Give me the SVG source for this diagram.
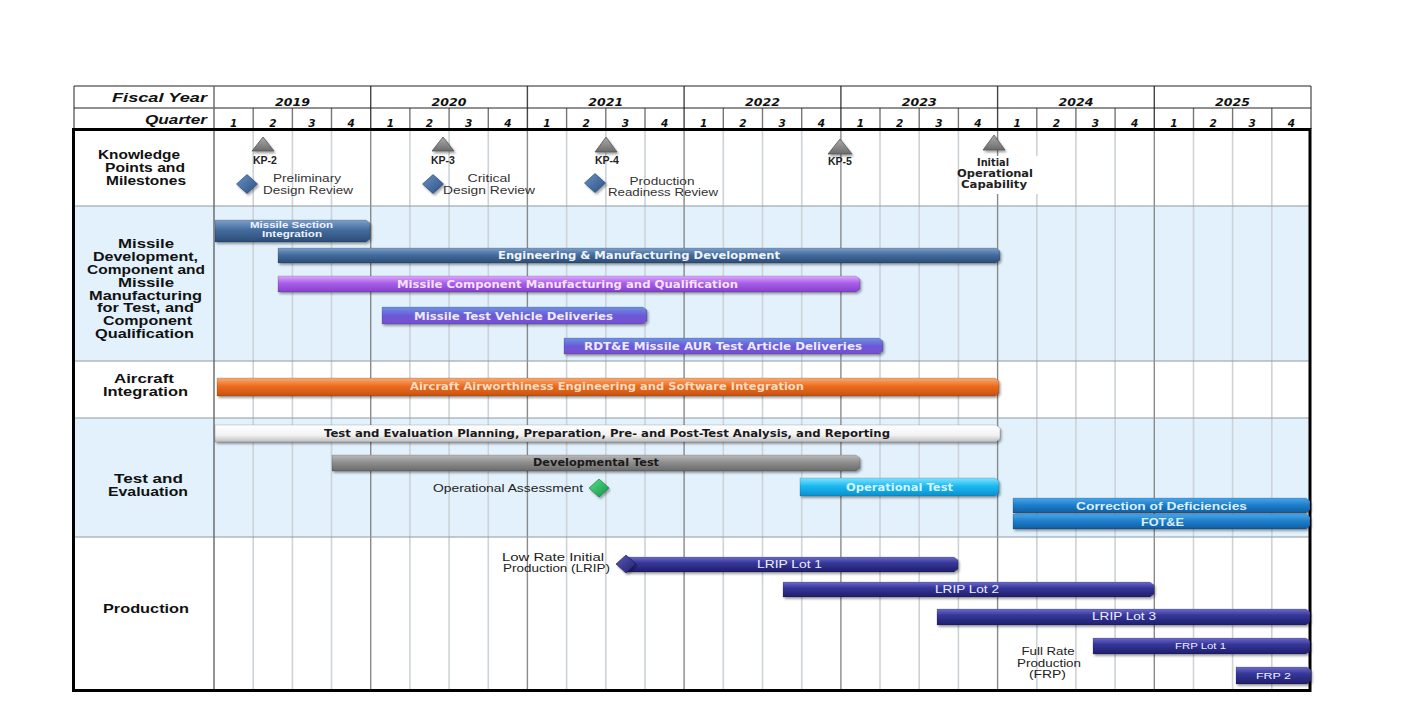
<svg xmlns="http://www.w3.org/2000/svg" width="1416" height="720" viewBox="0 0 1416 720">
<style>
.lbl{font-family:"Liberation Sans",Arial,sans-serif;font-weight:bold;font-size:12.5px;fill:#111}
.hdr{font-family:"Liberation Sans",Arial,sans-serif;font-weight:bold;font-style:italic;font-size:12.5px;fill:#111}
.yr{font-family:"DejaVu Sans",Verdana,sans-serif;font-weight:bold;font-style:italic;font-size:10px;fill:#111;text-anchor:middle}
.q{font-family:"DejaVu Sans",Verdana,sans-serif;font-weight:bold;font-style:italic;font-size:10.5px;fill:#111;text-anchor:middle}
.kp{font-family:"Liberation Sans",Arial,sans-serif;font-weight:bold;font-size:10.5px;fill:#222;text-anchor:middle}
.ioc{font-family:"DejaVu Sans",Verdana,sans-serif;font-weight:bold;font-size:10px;fill:#222;text-anchor:middle}
.ms{font-family:"Liberation Sans",Arial,sans-serif;font-size:10.5px;fill:#333}
.mid{text-anchor:middle}
.bt{font-family:"DejaVu Sans",Verdana,sans-serif;font-weight:bold;font-size:10.5px;fill:#f2f4fa}
.ba{font-family:"Liberation Sans",Arial,sans-serif;font-weight:bold;font-size:10.5px;fill:#eef4ff}
.bn{font-family:"Liberation Sans",Arial,sans-serif;font-size:10.5px;fill:#eeeeff}
.bar{filter:url(#sh);stroke:#000;stroke-opacity:0.25;stroke-width:0.6}
.qline{stroke:#cdd3d8;stroke-width:1.6;fill:none}
.yline{stroke:#8a8a8a;stroke-width:1.4;fill:none}
.hq{stroke:#777;stroke-width:1.4;fill:none}
.rowdiv{stroke:#8d9ba5;stroke-width:1;fill:none}
.tri{fill:url(#gTri);stroke:#555;stroke-width:0.8;filter:url(#sh)}
.dia{stroke:#1f3b66;stroke-width:0.6;filter:url(#sh)}
</style>
<defs>
<filter id="sh" x="-10%" y="-40%" width="120%" height="200%">
<feDropShadow dx="1.5" dy="2" stdDeviation="1.2" flood-color="#000" flood-opacity="0.35"/>
</filter>
<linearGradient id="gSteel" x1="0" y1="0" x2="0" y2="1"><stop offset="0" stop-color="#7d9fcb"/><stop offset="0.45" stop-color="#446d9e"/><stop offset="1" stop-color="#2b4c77"/></linearGradient>
<linearGradient id="gViolet" x1="0" y1="0" x2="0" y2="1"><stop offset="0" stop-color="#dda9ff"/><stop offset="0.45" stop-color="#a85ee8"/><stop offset="1" stop-color="#8640cc"/></linearGradient>
<linearGradient id="gBV" x1="0" y1="0" x2="0" y2="1"><stop offset="0" stop-color="#6f92e2"/><stop offset="0.5" stop-color="#6a5ad8"/><stop offset="1" stop-color="#7a4ed0"/></linearGradient>
<linearGradient id="gOrange" x1="0" y1="0" x2="0" y2="1"><stop offset="0" stop-color="#f9ab74"/><stop offset="0.45" stop-color="#ec6c1e"/><stop offset="1" stop-color="#c8520f"/></linearGradient>
<linearGradient id="gSilver" x1="0" y1="0" x2="0" y2="1"><stop offset="0" stop-color="#ffffff"/><stop offset="0.6" stop-color="#f2f2f2"/><stop offset="1" stop-color="#bcbcbc"/></linearGradient>
<linearGradient id="gGrey" x1="0" y1="0" x2="0" y2="1"><stop offset="0" stop-color="#bababa"/><stop offset="0.45" stop-color="#8f8f8f"/><stop offset="1" stop-color="#6a6a6a"/></linearGradient>
<linearGradient id="gCyan" x1="0" y1="0" x2="0" y2="1"><stop offset="0" stop-color="#80e3ff"/><stop offset="0.45" stop-color="#1cb8f0"/><stop offset="1" stop-color="#0b90cf"/></linearGradient>
<linearGradient id="gBlue" x1="0" y1="0" x2="0" y2="1"><stop offset="0" stop-color="#4ba6ea"/><stop offset="0.45" stop-color="#1f80cd"/><stop offset="1" stop-color="#0f5c9e"/></linearGradient>
<linearGradient id="gNavy" x1="0" y1="0" x2="0" y2="1"><stop offset="0" stop-color="#6c6cc9"/><stop offset="0.4" stop-color="#36369a"/><stop offset="1" stop-color="#1f1f6c"/></linearGradient>
<linearGradient id="gTri" x1="0" y1="0" x2="0" y2="1"><stop offset="0" stop-color="#aaaaaa"/><stop offset="1" stop-color="#6c6c6c"/></linearGradient>
<linearGradient id="gDia" x1="0" y1="0" x2="1" y2="1"><stop offset="0" stop-color="#6a91c4"/><stop offset="1" stop-color="#2c5085"/></linearGradient>
<linearGradient id="gGreen" x1="0" y1="0" x2="1" y2="1"><stop offset="0" stop-color="#5ce08c"/><stop offset="1" stop-color="#0f9444"/></linearGradient>
<linearGradient id="gNavyD" x1="0" y1="0" x2="1" y2="1"><stop offset="0" stop-color="#5a5ab8"/><stop offset="1" stop-color="#1f1f6c"/></linearGradient>
</defs>

<rect x="0" y="0" width="1416" height="720" fill="#ffffff"/>

<g id="background">
<rect x="74" y="206" width="1236" height="155" fill="#e2f1fc"/>
<rect x="74" y="418" width="1236" height="119" fill="#e2f1fc"/>
<rect x="955" y="156" width="80" height="38" fill="#ffffff"/>
</g>

<g id="grid">
<path class="qline" d="M253.2 129V690M292.4 129V690M331.5 129V690M409.9 129V690M449.1 129V690M488.3 129V690M566.6 129V690M605.8 129V690M645 129V690M723.3 129V690M762.5 129V690M801.7 129V690M880 129V690M919.2 129V690M958.4 129V690M1036.8 194V690M1075.9 129V690M1115.1 129V690M1193.5 129V690M1232.6 129V690M1271.8 129V690M1036.8 129V156"/>
<path class="yline" d="M370.7 129V690M527.4 129V690M684.1 129V690M840.9 129V690M997.6 129V156M997.6 194V690M1154.3 129V690"/>
<path class="hq" d="M253.2 108V129M292.4 108V129M331.5 108V129M409.9 108V129M449.1 108V129M488.3 108V129M566.6 108V129M605.8 108V129M645 108V129M723.3 108V129M762.5 108V129M801.7 108V129M880 108V129M919.2 108V129M958.4 108V129M1036.8 108V129M1075.9 108V129M1115.1 108V129M1193.5 108V129M1232.6 108V129M1271.8 108V129"/>
<path d="M370.7 86V129M527.4 86V129M684.1 86V129M840.9 86V129M997.6 86V129M1154.3 86V129" stroke="#444" stroke-width="1.4" fill="none"/>
<path class="rowdiv" d="M74 206H1310M74 361H1310M74 418H1310M74 537H1310"/>
</g>

<g id="frame">
<path d="M74 86H1311M74 108H1311M74 86V129M1311 86V129" stroke="#222" stroke-width="1" fill="none"/>
<path d="M214 86V690" stroke="#666" stroke-width="1.4" fill="none"/>
<rect x="73.5" y="129.5" width="1236.5" height="561" fill="none" stroke="#000" stroke-width="3"/>
</g>

<g id="header">
<text class="hdr" x="112" y="102" textLength="95" lengthAdjust="spacingAndGlyphs">Fiscal Year</text>
<text class="hdr" x="145" y="124" textLength="62" lengthAdjust="spacingAndGlyphs">Quarter</text>
<text class="yr" x="292.4" y="106" textLength="35" lengthAdjust="spacingAndGlyphs">2019</text>
<text class="yr" x="449.1" y="106" textLength="35" lengthAdjust="spacingAndGlyphs">2020</text>
<text class="yr" x="605.8" y="106" textLength="35" lengthAdjust="spacingAndGlyphs">2021</text>
<text class="yr" x="762.5" y="106" textLength="35" lengthAdjust="spacingAndGlyphs">2022</text>
<text class="yr" x="919.2" y="106" textLength="35" lengthAdjust="spacingAndGlyphs">2023</text>
<text class="yr" x="1075.9" y="106" textLength="35" lengthAdjust="spacingAndGlyphs">2024</text>
<text class="yr" x="1232.6" y="106" textLength="35" lengthAdjust="spacingAndGlyphs">2025</text>
<text class="q" x="233.6" y="127">1</text><text class="q" x="272.8" y="127">2</text><text class="q" x="311.9" y="127">3</text><text class="q" x="351.1" y="127">4</text>
<text class="q" x="390.3" y="127">1</text><text class="q" x="429.5" y="127">2</text><text class="q" x="468.7" y="127">3</text><text class="q" x="507.8" y="127">4</text>
<text class="q" x="547" y="127">1</text><text class="q" x="586.2" y="127">2</text><text class="q" x="625.4" y="127">3</text><text class="q" x="664.6" y="127">4</text>
<text class="q" x="703.7" y="127">1</text><text class="q" x="742.9" y="127">2</text><text class="q" x="782.1" y="127">3</text><text class="q" x="821.3" y="127">4</text>
<text class="q" x="860.5" y="127">1</text><text class="q" x="899.6" y="127">2</text><text class="q" x="938.8" y="127">3</text><text class="q" x="978" y="127">4</text>
<text class="q" x="1017.2" y="127">1</text><text class="q" x="1056.3" y="127">2</text><text class="q" x="1095.5" y="127">3</text><text class="q" x="1134.7" y="127">4</text>
<text class="q" x="1173.9" y="127">1</text><text class="q" x="1213.1" y="127">2</text><text class="q" x="1252.2" y="127">3</text><text class="q" x="1291.4" y="127">4</text>
</g>

<g id="row-labels">
<text class="lbl" x="98" y="159" textLength="82" lengthAdjust="spacingAndGlyphs">Knowledge</text>
<text class="lbl" x="105" y="172" textLength="80" lengthAdjust="spacingAndGlyphs">Points and</text>
<text class="lbl" x="106" y="185" textLength="80" lengthAdjust="spacingAndGlyphs">Milestones</text>
<text class="lbl" x="118" y="248" textLength="56" lengthAdjust="spacingAndGlyphs">Missile</text>
<text class="lbl" x="93" y="261" textLength="105" lengthAdjust="spacingAndGlyphs">Development,</text>
<text class="lbl" x="87" y="274" textLength="118" lengthAdjust="spacingAndGlyphs">Component and</text>
<text class="lbl" x="118" y="287" textLength="56" lengthAdjust="spacingAndGlyphs">Missile</text>
<text class="lbl" x="89" y="300" textLength="113" lengthAdjust="spacingAndGlyphs">Manufacturing</text>
<text class="lbl" x="97" y="312" textLength="97" lengthAdjust="spacingAndGlyphs">for Test, and</text>
<text class="lbl" x="103" y="325" textLength="89" lengthAdjust="spacingAndGlyphs">Component</text>
<text class="lbl" x="95" y="338" textLength="99" lengthAdjust="spacingAndGlyphs">Qualification</text>
<text class="lbl" x="114" y="383" textLength="60" lengthAdjust="spacingAndGlyphs">Aircraft</text>
<text class="lbl" x="103" y="396" textLength="85" lengthAdjust="spacingAndGlyphs">Integration</text>
<text class="lbl" x="114" y="483" textLength="69" lengthAdjust="spacingAndGlyphs">Test and</text>
<text class="lbl" x="108" y="496" textLength="80" lengthAdjust="spacingAndGlyphs">Evaluation</text>
<text class="lbl" x="103" y="613" textLength="86" lengthAdjust="spacingAndGlyphs">Production</text>
</g>

<g id="milestones">
<g id="kp2"><path class="tri" d="M263 137L274 151L252 151Z"/><text class="kp" x="265" y="164">KP-2</text></g>
<g id="kp3"><path class="tri" d="M443 137L454 151L432 151Z"/><text class="kp" x="443" y="164">KP-3</text></g>
<g id="kp4"><path class="tri" d="M606 137L617 152L595 152Z"/><text class="kp" x="607" y="164">KP-4</text></g>
<g id="kp5"><path class="tri" d="M840 139L852 154L828 154Z"/><text class="kp" x="840" y="165">KP-5</text></g>
<g id="ioc"><path class="tri" d="M994 135L1005 150L983 150Z"/>
<text class="ioc" x="993" y="166" textLength="32" lengthAdjust="spacingAndGlyphs">Initial</text>
<text class="ioc" x="995" y="177" textLength="76" lengthAdjust="spacingAndGlyphs">Operational</text>
<text class="ioc" x="994" y="188" textLength="66" lengthAdjust="spacingAndGlyphs">Capability</text></g>
<g id="pdr"><path class="dia" fill="url(#gDia)" d="M247 174.5L257.5 184L247 193.5L236.5 184Z"/>
<text class="ms mid" x="307" y="182" textLength="68" lengthAdjust="spacingAndGlyphs">Preliminary</text>
<text class="ms mid" x="308" y="194" textLength="90" lengthAdjust="spacingAndGlyphs">Design Review</text></g>
<g id="cdr"><path class="dia" fill="url(#gDia)" d="M433 174.5L443.5 184L433 193.5L422.5 184Z"/>
<text class="ms mid" x="489" y="182" textLength="43" lengthAdjust="spacingAndGlyphs">Critical</text>
<text class="ms mid" x="489" y="194" textLength="92" lengthAdjust="spacingAndGlyphs">Design Review</text></g>
<g id="prr"><path class="dia" fill="url(#gDia)" d="M595 173.5L605.5 183L595 192.5L584.5 183Z"/>
<text class="ms mid" x="662" y="185" textLength="65" lengthAdjust="spacingAndGlyphs">Production</text>
<text class="ms mid" x="663" y="196" textLength="110" lengthAdjust="spacingAndGlyphs">Readiness Review</text></g>
</g>

<g id="missile-bars">
<g id="msi"><path class="bar" fill="url(#gSteel)" d="M215 220H366L370 223V239L366 242H215Z"/>
<text class="ba mid" style="font-size:8.5px" x="291.5" y="227.5" textLength="83" lengthAdjust="spacingAndGlyphs">Missile  Section</text>
<text class="ba mid" style="font-size:8.5px" x="292" y="237" textLength="60" lengthAdjust="spacingAndGlyphs">Integration</text></g>
<g id="emd"><path class="bar" fill="url(#gSteel)" d="M278 248H996L1000 251V260L996 263H278Z"/>
<text class="bt" x="498" y="258.5" textLength="282" lengthAdjust="spacingAndGlyphs">Engineering &amp; Manufacturing Development</text></g>
<g id="mcmq"><path class="bar" fill="url(#gViolet)" d="M278 276H856L860 279V289L856 292H278Z"/>
<text class="bt" style="fill:#f6e2ff" x="397" y="287.5" textLength="341" lengthAdjust="spacingAndGlyphs">Missile Component Manufacturing and Qualification</text></g>
<g id="mtvd"><path class="bar" fill="url(#gBV)" d="M382 307H643L647 310V321L643 324H382Z"/>
<text class="bt" style="fill:#ecebff" x="414" y="319.5" textLength="199" lengthAdjust="spacingAndGlyphs">Missile Test Vehicle Deliveries</text></g>
<g id="rdte"><path class="bar" fill="url(#gBV)" d="M564 338H879L883 341V351L879 354H564Z"/>
<text class="bt" style="fill:#ecebff" x="584" y="349.5" textLength="278" lengthAdjust="spacingAndGlyphs">RDT&amp;E Missile AUR Test Article Deliveries</text></g>
</g>

<g id="aircraft-bars">
<g id="air"><path class="bar" fill="url(#gOrange)" d="M217 378H995L999 381V393L995 396H217Z"/>
<text class="bt" style="fill:#fcdcc2" x="410" y="390" textLength="394" lengthAdjust="spacingAndGlyphs">Aircraft Airworthiness Engineering and Software Integration</text></g>
</g>

<g id="te-bars">
<g id="tep"><path class="bar" fill="url(#gSilver)" d="M215 425H996L1000 428V439L996 442H215Z"/>
<text class="bt" style="fill:#1a1a1a" x="324" y="436.5" textLength="566" lengthAdjust="spacingAndGlyphs">Test and Evaluation Planning, Preparation, Pre- and Post-Test Analysis, and Reporting</text></g>
<g id="dev"><path class="bar" fill="url(#gGrey)" d="M332 455H856L860 458V468L856 471H332Z"/>
<text class="bt" style="fill:#1a1a1a" x="533" y="466" textLength="126" lengthAdjust="spacingAndGlyphs">Developmental Test</text></g>
<g id="opa"><text class="ms" style="fill:#222" x="433" y="491.5" textLength="150" lengthAdjust="spacingAndGlyphs">Operational Assessment</text>
<path class="dia" style="stroke:#0b6e32" fill="url(#gGreen)" d="M599 479L609 488L599 497L589 488Z"/></g>
<g id="opt"><path class="bar" fill="url(#gCyan)" d="M800 478H995L999 481V493L995 496H800Z"/>
<text class="bt" style="fill:#d2f4ff" x="846" y="491" textLength="107" lengthAdjust="spacingAndGlyphs">Operational Test</text></g>
<g id="cod"><path class="bar" fill="url(#gBlue)" d="M1013 498H1306L1310 501V510L1306 513H1013Z"/>
<text class="ba" style="fill:#dcefff" x="1076" y="509.5" textLength="171" lengthAdjust="spacingAndGlyphs">Correction of Deficiencies</text></g>
<g id="fote"><path class="bar" fill="url(#gBlue)" d="M1013 514H1306L1310 517V526L1306 529H1013Z"/>
<text class="ba" style="fill:#dcefff" x="1141" y="525.5" textLength="43" lengthAdjust="spacingAndGlyphs">FOT&amp;E</text></g>
</g>

<g id="production-bars">
<g id="lrip-ms"><text class="ms" style="fill:#222" x="502" y="561" textLength="102" lengthAdjust="spacingAndGlyphs">Low Rate Initial</text>
<text class="ms" style="fill:#222" x="503" y="572" textLength="107" lengthAdjust="spacingAndGlyphs">Production (LRIP)</text></g>
<g id="lrip1"><path class="bar" fill="url(#gNavy)" d="M626 557H954L958 560V569L954 572H626Z"/>
<path class="dia" style="stroke:#15154d" fill="url(#gNavyD)" d="M626 555L636 564L626 573L616 564Z"/>
<text class="bn" x="757" y="568" textLength="65" lengthAdjust="spacingAndGlyphs">LRIP Lot 1</text></g>
<g id="lrip2"><path class="bar" fill="url(#gNavy)" d="M783 582H1150L1154 585V594L1150 597H783Z"/>
<text class="bn" x="935" y="593" textLength="64" lengthAdjust="spacingAndGlyphs">LRIP Lot 2</text></g>
<g id="lrip3"><path class="bar" fill="url(#gNavy)" d="M937 609H1306L1310 612V622L1306 625H937Z"/>
<text class="bn" x="1092" y="620" textLength="64" lengthAdjust="spacingAndGlyphs">LRIP Lot 3</text></g>
<g id="frp1"><path class="bar" fill="url(#gNavy)" d="M1093 638H1306L1310 641V651L1306 654H1093Z"/>
<text class="bn" style="font-size:8.5px" x="1175" y="648.5" textLength="51" lengthAdjust="spacingAndGlyphs">FRP Lot 1</text></g>
<g id="frp2"><path class="bar" fill="url(#gNavy)" d="M1236 667H1307L1311 670V681L1307 684H1236Z"/>
<text class="bn" style="font-size:9px" x="1256" y="678.5" textLength="35" lengthAdjust="spacingAndGlyphs">FRP  2</text></g>
<g id="frp-ms"><text class="ms mid" style="fill:#222" x="1048" y="655" textLength="53" lengthAdjust="spacingAndGlyphs">Full Rate</text>
<text class="ms mid" style="fill:#222" x="1049" y="666.5" textLength="64" lengthAdjust="spacingAndGlyphs">Production</text>
<text class="ms mid" style="fill:#222" x="1047.5" y="678" textLength="37" lengthAdjust="spacingAndGlyphs">(FRP)</text></g>
</g>

<g id="connectors"/>
</svg>
